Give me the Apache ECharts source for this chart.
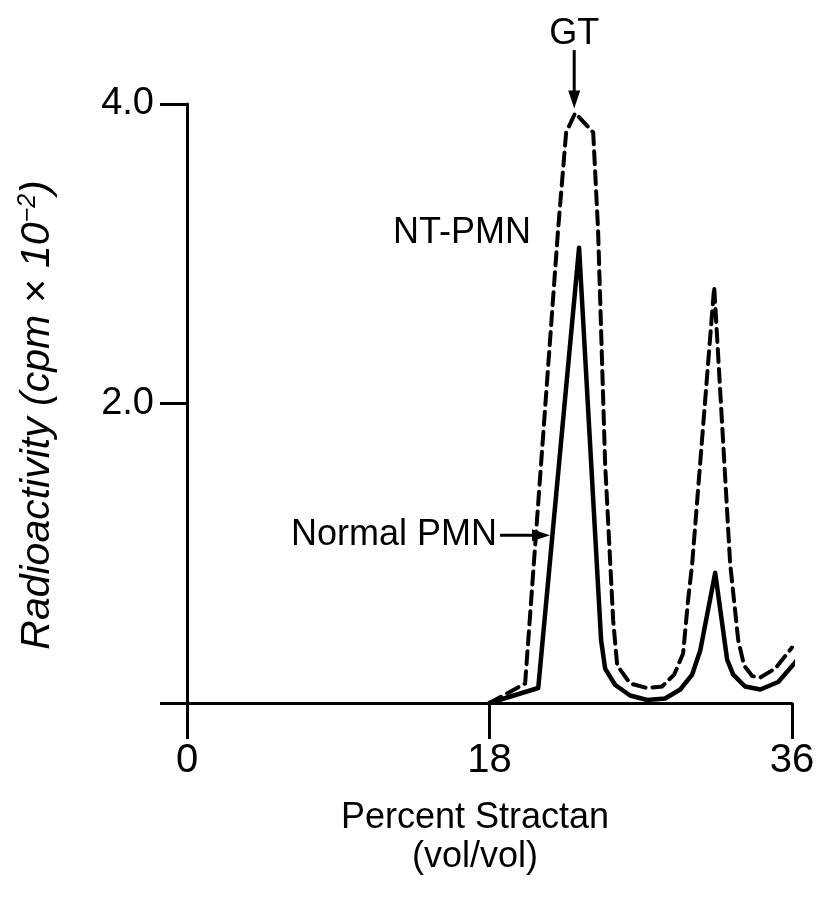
<!DOCTYPE html>
<html>
<head>
<meta charset="utf-8">
<script src="https://cdn.jsdelivr.net/npm/echarts@6/dist/echarts.min.js"></script>
<style>html,body{margin:0;padding:0;background:#fff}#c{width:820px;height:900px}</style>
</head>
<body>
<div id="c"></div>
<script>
// ---- data ----
const xTicks = [0, 18, 36];
const yTickLabels = ['', '2.0', '4.0'];
const normalX = [18, 20.9, 23.33, 24.64, 24.88, 25.48, 26.37, 27.38, 28.45, 29.35, 30.06, 30.54, 31.43, 32.14, 32.5, 33.21, 34.11, 35.18, 36.49];
const normalY = [0, 0.10, 3.04, 0.42, 0.23, 0.12, 0.05, 0.02, 0.03, 0.09, 0.19, 0.35, 0.87, 0.29, 0.19, 0.11, 0.09, 0.14, 0.31];
const ntX = [18, 20.12, 22.08, 22.56, 23.1, 24.17, 24.46, 24.88, 25.36, 25.6, 26.37, 27.38, 28.27, 28.99, 29.52, 29.82, 30.06, 31.37, 32.32, 32.8, 33.15, 33.63, 34.11, 35.0, 36.0];
const ntY = [0, 0.13, 3.16, 3.81, 3.94, 3.81, 3.16, 1.60, 0.55, 0.25, 0.13, 0.10, 0.11, 0.19, 0.33, 0.69, 0.93, 2.78, 0.93, 0.42, 0.25, 0.18, 0.17, 0.23, 0.37];
const seriesNames = ['Normal PMN', 'NT-PMN'];
const annoGT = {text: 'GT', x: 23.04, y: 4.47, arrowFrom: 4.36, arrowTo: 3.97};
const annoNT = {text: 'NT-PMN', x: 16.37, y: 3.14};
const annoNormal = {text: 'Normal PMN', x: 18.45, y: 1.12, arrowFrom: 18.63, arrowTo: 21.6};

const FONT = '"Liberation Sans", Arial, Helvetica, sans-serif';
const chart = echarts.init(document.getElementById('c'));
const zip = (a, b) => a.map((v, i) => [v, b[i]]);

chart.setOption({
  animation: false,
  backgroundColor: '#fff',
  grid: {left: 187, right: 28, top: 104, bottom: 197, containLabel: false},
  xAxis: {
    type: 'value', min: 0, max: 36, interval: 18,
    axisLine: {show: true, onZero: false, lineStyle: {color: '#000', width: 3}},
    axisTick: {show: true, length: 36, lineStyle: {color: '#000', width: 3}},
    axisLabel: {color: '#000', fontSize: 40, fontFamily: FONT, margin: 38,
      formatter: v => xTicks.includes(v) ? String(v) : ''},
    splitLine: {show: false}
  },
  yAxis: {
    type: 'value', min: 0, max: 4, interval: 2,
    axisLine: {show: true, onZero: false, lineStyle: {color: '#000', width: 3}},
    axisTick: {show: true, length: 27, lineStyle: {color: '#000', width: 3}},
    axisLabel: {color: '#000', fontSize: 38, fontFamily: FONT, margin: 33,
      formatter: v => yTickLabels[Math.round(v / 2)]},
    splitLine: {show: false}
  },
  series: [
    {
      name: seriesNames[0], type: 'line', data: zip(normalX, normalY),
      symbol: 'none', clip: false,
      lineStyle: {color: '#000', width: 4.5, join: 'round', cap: 'round'}
    },
    {
      name: seriesNames[1], type: 'line', data: zip(ntX, ntY),
      symbol: 'none', clip: false,
      lineStyle: {color: '#000', width: 4, type: [13, 7], join: 'round', cap: 'round'}
    }
  ]
});

const px = (x, y) => chart.convertToPixel({gridIndex: 0}, [x, y]);
const pGT = px(annoGT.x, annoGT.y);
const pNT = px(annoNT.x, annoNT.y);
const pN = px(annoNormal.x, annoNormal.y);
const gA = px(annoGT.x, annoGT.arrowFrom), gB = px(annoGT.x, annoGT.arrowTo);
const nA = px(annoNormal.arrowFrom, annoNormal.y), nB = px(annoNormal.arrowTo, annoNormal.y);
const txt = (t, p, align) => ({
  type: 'text', x: p[0], y: p[1],
  style: {text: t, fill: '#000', font: '36px ' + FONT, align: align, verticalAlign: 'middle'}
});
const HL = 18, HW = 6;

chart.setOption({
  graphic: [
    txt(annoGT.text, pGT, 'center'),
    txt(annoNT.text, pNT, 'center'),
    txt(annoNormal.text, pN, 'right'),
    // GT arrow (down)
    {type: 'line', shape: {x1: gA[0], y1: gA[1], x2: gB[0], y2: gB[1] - HL + 2}, style: {stroke: '#000', lineWidth: 3}},
    {type: 'polygon', shape: {points: [[gB[0] - HW, gB[1] - HL], [gB[0] + HW, gB[1] - HL], [gB[0], gB[1]]]}, style: {fill: '#000'}},
    // Normal PMN arrow (right)
    {type: 'line', shape: {x1: nA[0], y1: nA[1], x2: nB[0] - HL + 2, y2: nB[1]}, style: {stroke: '#000', lineWidth: 3}},
    {type: 'polygon', shape: {points: [[nB[0] - HL, nB[1] - HW], [nB[0] - HL, nB[1] + HW], [nB[0], nB[1]]]}, style: {fill: '#000'}},
    {type: 'text', x: 475, y: 818,
      style: {text: 'Percent Stractan', fill: '#000', font: '36px ' + FONT, align: 'center', verticalAlign: 'middle'}},
    {type: 'text', x: 475, y: 857,
      style: {text: '(vol/vol)', fill: '#000', font: '36px ' + FONT, align: 'center', verticalAlign: 'middle'}},
    {type: 'text', x: 38, y: 415, rotation: Math.PI / 2,
      style: {
        text: '{a|Radioactivity (cpm × 10}{s|−2}{a|)}',
        align: 'center', verticalAlign: 'middle',
        rich: {
          a: {fontSize: 41, fontStyle: 'italic', fontFamily: FONT, fill: '#000', lineHeight: 44},
          s: {fontSize: 25, fontStyle: 'italic', fontFamily: FONT, fill: '#000', verticalAlign: 'top', lineHeight: 44, padding: [0, 0, 15, 0]}
        }
      }}
  ]
});
</script>
</body>
</html>
